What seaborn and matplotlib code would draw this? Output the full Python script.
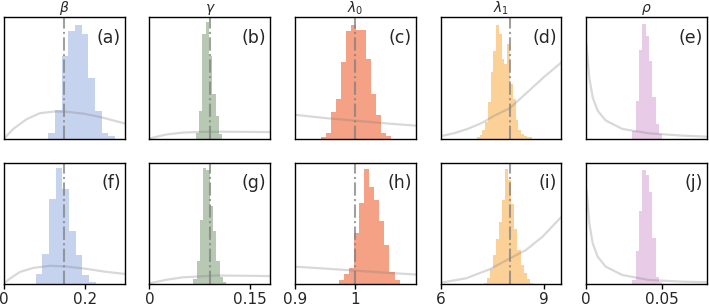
import numpy as np
import matplotlib
matplotlib.use("Agg")
import matplotlib.pyplot as plt
import seaborn as sns

# parameter names, axis ranges and ticks per column
params = [r"$\beta$", r"$\gamma$", r"$\lambda_0$", r"$\lambda_1$", r"$\rho$"]
x_limits = [(0, 0.3), (0, 0.18), (0.9, 1.1), (6, 9.5), (0, 0.08)]
x_ticks = [[0, 0.2], [0, 0.15], [0.9, 1], [6, 9], [0, 0.05]]
x_tick_labels = [["0", "0.2"], ["0", "0.15"], ["0.9", "1"], ["6", "9"], ["0", "0.05"]]
true_values = [0.15, 0.09, 1.0, 8.0, None]
colors = ["#c6d3ef", "#b7c9b2", "#f4a185", "#fbd198", "#e8cbe6"]
panel_labels = [["(a)", "(b)", "(c)", "(d)", "(e)"],
                ["(f)", "(g)", "(h)", "(i)", "(j)"]]

# posterior histograms (heights relative to panel height)
top_bin_start = [0.11, 0.069, 0.943, 7.05, 0.0307]
top_bin_width = [0.0165, 0.00493, 0.00826, 0.08, 0.00219]
top_heights = [
    [0.05, 0.24, 0.68, 0.885, 0.94, 0.86, 0.50, 0.23, 0.05, 0.02],
    [0.05, 0.23, 0.86, 0.96, 0.68, 0.37, 0.19, 0.04],
    [0.01, 0.047, 0.22, 0.325, 0.63, 0.89, 0.94, 0.90, 0.90, 0.66, 0.37, 0.197, 0.047, 0.025],
    [0.01, 0.03, 0.07, 0.14, 0.30, 0.55, 0.72, 0.94, 0.86, 0.66, 0.62, 0.78, 0.45, 0.33,
     0.15, 0.07, 0.04, 0.02, 0.01, 0.01],
    [0.065, 0.31, 0.73, 0.945, 0.85, 0.64, 0.34, 0.12, 0.04],
]
bottom_bin_start = [0.079, 0.0651, 0.9732, 7.27, 0.0307]
bottom_bin_width = [0.0165, 0.00493, 0.0083, 0.087, 0.00219]
bottom_heights = [
    [0.08, 0.25, 0.70, 0.96, 0.78, 0.44, 0.24, 0.07, 0.015],
    [0.04, 0.19, 0.53, 0.96, 0.94, 0.64, 0.44, 0.19, 0.055, 0.02],
    [0.03, 0.08, 0.13, 0.42, 0.67, 0.95, 0.80, 0.69, 0.52, 0.32, 0.10, 0.03],
    [0.01, 0.05, 0.12, 0.24, 0.37, 0.51, 0.69, 0.95, 0.86, 0.66, 0.45, 0.28, 0.16, 0.09,
     0.04, 0.01],
    [0.033, 0.27, 0.60, 0.945, 0.90, 0.76, 0.38, 0.06, 0.02],
]

# prior densities
top_prior_x = [
    [0, 0.023, 0.056, 0.089, 0.126, 0.155, 0.196, 0.237, 0.3],
    [0, 0.01, 0.026, 0.05, 0.08, 0.11, 0.14, 0.18],
    [0.9, 0.949, 1.0, 1.05, 1.1],
    [6, 6.4, 6.78, 7.2, 7.56, 8.0, 8.5, 9.0, 9.5],
    [0.0002, 0.0022, 0.0044, 0.0077, 0.013, 0.024, 0.0416, 0.0636, 0.08],
]
top_prior_y = [
    [0, 0.08, 0.16, 0.21, 0.224, 0.222, 0.207, 0.18, 0.125],
    [0, 0.015, 0.035, 0.05, 0.056, 0.057, 0.056, 0.054],
    [0.197, 0.17, 0.148, 0.126, 0.107],
    [0.02, 0.045, 0.08, 0.13, 0.19, 0.25, 0.38, 0.51, 0.63],
    [0.78, 0.5, 0.34, 0.23, 0.15, 0.08, 0.044, 0.025, 0.016],
]
bottom_prior_x = [
    [0, 0.015, 0.04, 0.073, 0.114, 0.155, 0.204, 0.254, 0.3],
    [0, 0.025, 0.05, 0.1, 0.14, 0.18],
    [0.9, 0.95, 1.0, 1.05, 1.1],
    [6.0, 6.74, 7.41, 8.0, 8.47, 8.95, 9.5],
    [0.0004, 0.0022, 0.0044, 0.0077, 0.013, 0.024, 0.0416, 0.0636, 0.08],
]
bottom_prior_y = [
    [0.005, 0.045, 0.10, 0.133, 0.15, 0.144, 0.125, 0.10, 0.083],
    [0.005, 0.035, 0.055, 0.07, 0.068, 0.065],
    [0.143, 0.127, 0.11, 0.093, 0.078],
    [0.01, 0.047, 0.12, 0.21, 0.28, 0.39, 0.555],
    [0.77, 0.5, 0.335, 0.225, 0.143, 0.074, 0.033, 0.019, 0.014],
]

sns.set_theme(style="ticks")
plt.rcParams["font.family"] = ["DejaVu Sans"]
plt.rcParams["mathtext.fontset"] = "dejavusans"

fig, axes = plt.subplots(2, 5, figsize=(7.09, 3.07), dpi=100)
fig.subplots_adjust(left=0.0056, right=0.9972, top=0.943, bottom=0.075,
                    wspace=0.203, hspace=0.2)

rows = [
    (top_bin_start, top_bin_width, top_heights, top_prior_x, top_prior_y),
    (bottom_bin_start, bottom_bin_width, bottom_heights, bottom_prior_x, bottom_prior_y),
]

for r, (starts, widths, heights, prior_x, prior_y) in enumerate(rows):
    for c in range(5):
        ax = axes[r, c]
        h = np.asarray(heights[c])
        edges = starts[c] + widths[c] * np.arange(len(h) + 1)
        centers = 0.5 * (edges[:-1] + edges[1:])
        sns.histplot(x=centers, weights=h, bins=edges.tolist(), ax=ax, color=colors[c],
                     alpha=1, linewidth=0, stat="count")
        sns.lineplot(x=prior_x[c], y=prior_y[c], ax=ax, color="gray", alpha=0.3,
                     linewidth=1.6)
        if true_values[c] is not None:
            ax.axvline(true_values[c], color="gray", linestyle="-.", linewidth=1.5,
                       alpha=0.75)
        ax.set_xlim(x_limits[c])
        ax.set_ylim(0, 1)
        ax.set_yticks([])
        ax.set_ylabel("")
        for s in ax.spines.values():
            s.set_color("black")
            s.set_linewidth(1.0)
        ax.text(0.965, 0.83, panel_labels[r][c], transform=ax.transAxes,
                ha="right", va="center", fontsize=12.5)
        if r == 0:
            ax.set_title(params[c], fontsize=10, pad=1)
            ax.set_xticks([])
        else:
            ax.set_xticks(x_ticks[c])
            ax.set_xticklabels(x_tick_labels[c], fontsize=11)
            ax.tick_params(axis="x", length=3.5, width=1, pad=2, color="black")

fig.savefig("out.png", dpi=100)
